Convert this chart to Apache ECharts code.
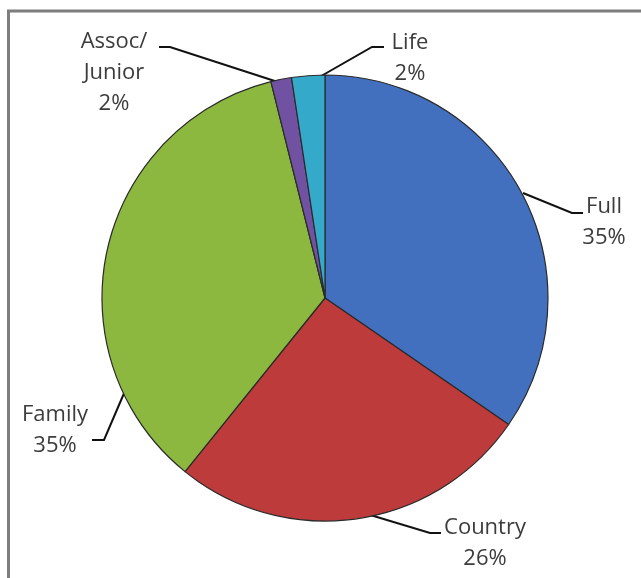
<!DOCTYPE html>
<html>
<head>
<meta charset="utf-8">
<script src="https://cdn.jsdelivr.net/npm/echarts@6/dist/echarts.min.js"></script>
<style>
html,body{margin:0;padding:0;background:#fff;}
#chart{width:641px;height:578px;}
</style>
</head>
<body>
<div id="chart"></div>
<script>
// Data
var categories = ['Full', 'Country', 'Family', 'Assoc/\nJunior', 'Life'];
var values = [34.6, 26.2, 35.3, 1.5, 2.4];
var percentLabels = ['35%', '26%', '35%', '2%', '2%'];

// Styles / layout (not data)
var colors = ['#4270BE', '#BE3B3B', '#8CB840', '#7152A2', '#34A9C9'];
var labelPos = [
  {x: 604, y: 222, line: [[523,193],[572,213],[583,213]]},
  {x: 485, y: 543, line: [[367,514],[430,533],[441,533]]},
  {x: 55,  y: 430, line: [[125,391],[104,440],[92,440]]},
  {x: 114, y: 73,  line: [[284,84],[170,47],[159,47]]},
  {x: 410, y: 58,  line: [[316,79],[372,47],[384,47]]}
];

var chart = echarts.init(document.getElementById('chart'));
var dataItems = categories.map(function (c, i) {
  return { name: c, value: values[i], itemStyle: { color: colors[i] } };
});

chart.setOption({
  animation: false,
  backgroundColor: '#ffffff',
  graphic: [
    { type: 'line', shape: {x1: 7, y1: 11, x2: 641, y2: 11}, style: {stroke: '#7d7d7d', lineWidth: 3} },
    { type: 'line', shape: {x1: 8.5, y1: 10, x2: 8.5, y2: 578}, style: {stroke: '#7d7d7d', lineWidth: 3} }
  ],
  series: [{
    type: 'pie',
    center: [325, 298],
    radius: 223,
    startAngle: 90,
    clockwise: true,
    data: dataItems,
    itemStyle: { borderColor: '#2a2a2a', borderWidth: 1.2 },
    emphasis: { disabled: true },
    label: {
      show: true,
      formatter: function (p) { return p.name + '\n' + percentLabels[p.dataIndex]; },
      fontFamily: 'Open Sans',
      fontSize: 22,
      lineHeight: 31,
      color: '#3c3c3c',
      align: 'center',
      overflow: 'none',
      width: 130
    },
    labelLine: { show: true, lineStyle: { color: '#111', width: 2 } },
    labelLayout: function (params) {
      var lp = labelPos[params.dataIndex];
      return {
        x: lp.x, y: lp.y,
        align: 'center', verticalAlign: 'middle',
        labelLinePoints: lp.line
      };
    }
  }]
});
</script>
</body>
</html>
